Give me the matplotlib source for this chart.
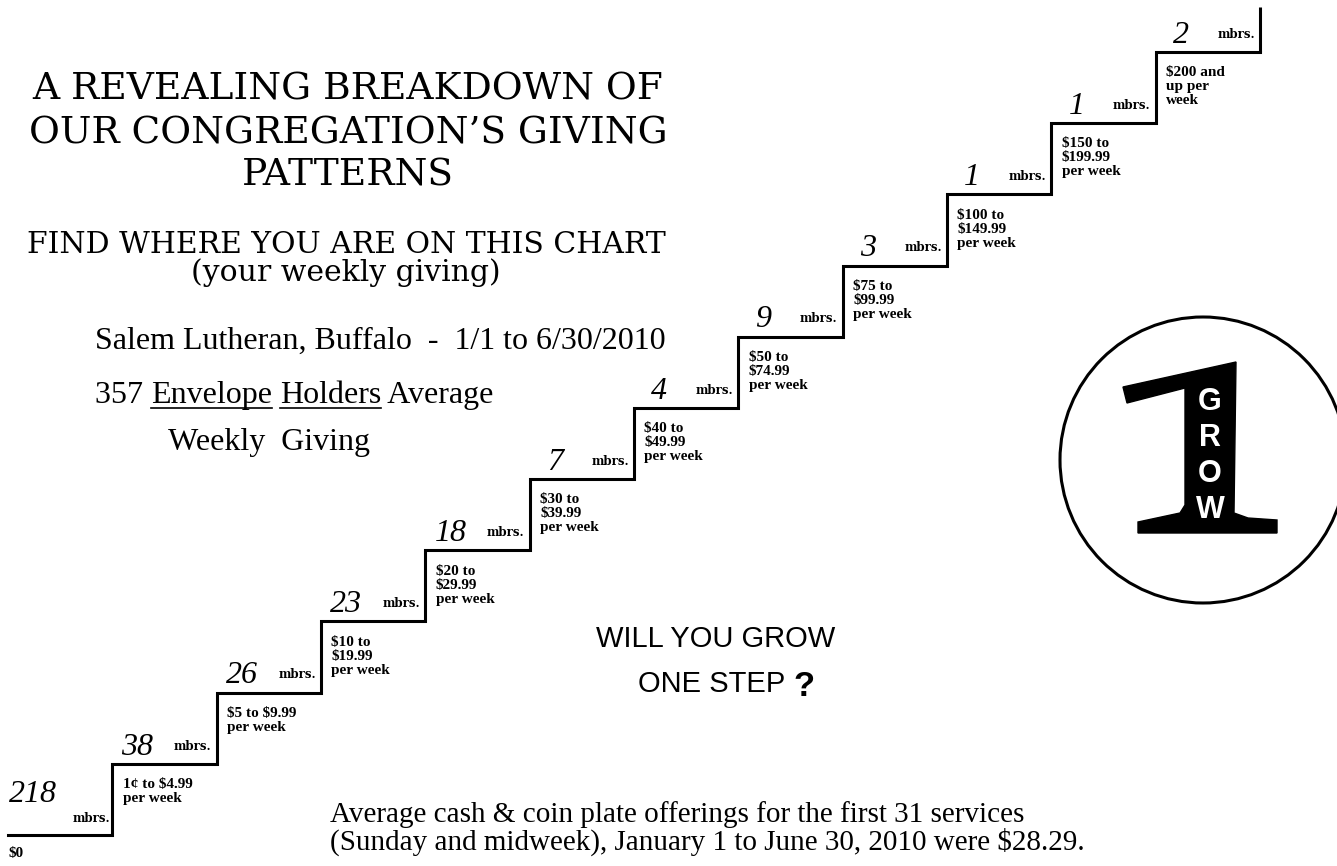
import numpy as np
import matplotlib
matplotlib.use("Agg")
import matplotlib.pyplot as plt
from matplotlib.patches import Circle, Polygon

plt.rcParams["text.parse_math"] = False

# giving brackets (weekly) and number of members on each step
ranges = ["$0", "1\u00a2 to $4.99\nper week", "$5 to $9.99\nper week",
          "$10 to\n$19.99\nper week", "$20 to\n$29.99\nper week",
          "$30 to\n$39.99\nper week", "$40 to\n$49.99\nper week",
          "$50 to\n$74.99\nper week", "$75 to\n$99.99\nper week",
          "$100 to\n$149.99\nper week", "$150 to\n$199.99\nper week",
          "$200 and\nup per\nweek"]
members = [218, 38, 26, 23, 18, 7, 4, 9, 3, 1, 1, 2]

W, H = 1337, 866
fig = plt.figure(figsize=(W / 100, H / 100), dpi=100)
fig.patch.set_facecolor("white")

# staircase axes: one unit per step
ax = fig.add_axes([0, 0, 1, 1])
ax.set_xlim(-0.077, 12.738)
ax.set_ylim(-0.435, 11.73)
ax.axis("off")

n = len(members)
lvl = np.arange(n)
ax.step(np.arange(n + 1), np.append(lvl, lvl[-1]), where="post",
        color="black", lw=2.2, solid_joinstyle="miter")
ax.vlines(n, n - 1, n - 0.37, color="black", lw=2.2)

hand = dict(family="Liberation Serif", style="italic", fontsize=23)
small = dict(family="DejaVu Serif", fontweight="bold", fontsize=8.5)
lab = dict(family="Liberation Serif", fontweight="bold", fontsize=11,
           linespacing=1.1)

for i, (r, m) in enumerate(zip(ranges, members)):
    if i == 0:
        ax.text(i + 0.24, i + 0.46, str(m), ha="center", va="baseline", **hand)
        ax.text(i + 0.98, i + 0.18, "mbrs.", ha="right", va="baseline", **small)
        ax.text(i + 0.0, i - 0.17, r, ha="left", va="top", **lab)
    else:
        ax.text(i + 0.24, i + 0.13, str(m), ha="center", va="baseline", **hand)
        ax.text(i + 0.95, i + 0.2, "mbrs.", ha="right", va="baseline", **small)
        ax.text(i + 0.1, i - 0.2, r, ha="left", va="top", **lab)

# overlay in pixel coordinates for the text block and logo
deco = fig.add_axes([0, 0, 1, 1])
deco.set_xlim(0, W)
deco.set_ylim(H, 0)
deco.axis("off")
deco.patch.set_alpha(0)

title = dict(family="DejaVu Serif", fontsize=27, ha="center", va="baseline")
deco.text(348, 100, "A REVEALING BREAKDOWN OF", **title)
deco.text(348, 143, "OUR CONGREGATION\u2019S GIVING", **title)
deco.text(348, 186, "PATTERNS", **title)
sub = dict(family="DejaVu Serif", fontsize=21.5, ha="center", va="baseline")
deco.text(346, 253, "FIND WHERE YOU ARE ON THIS CHART", **sub)
deco.text(346, 281, "(your weekly giving)", **sub)

body = dict(family="Liberation Serif", fontsize=23, va="baseline", ha="left")
deco.text(95, 349, "Salem Lutheran, Buffalo  -  1/1 to 6/30/2010", **body)

# line with underlined words
fig.canvas.draw()
rend = fig.canvas.get_renderer()
x = 95
for word, ul in [("357 ", False), ("Envelope", True), (" ", False),
                 ("Holders", True), (" Average", False)]:
    t = deco.text(x, 403, word, **body)
    w = t.get_window_extent(rend).width
    if ul:
        deco.plot([x, x + w], [408, 408], color="black", lw=1.2)
    x += w
deco.text(168, 450, "Weekly  Giving", **body)

sans = dict(family="Liberation Sans", fontsize=21, ha="center", va="baseline")
deco.text(716, 647, "WILL YOU GROW", **sans)
deco.text(712, 692, "ONE STEP", **sans)
deco.text(804, 696, "?", family="Liberation Sans", fontweight="bold",
          fontsize=25, ha="center", va="baseline")

foot = dict(family="Liberation Serif", fontsize=21, va="baseline", ha="left")
deco.text(330, 822, "Average cash & coin plate offerings for the first 31 services",
          **foot)
deco.text(330, 850, "(Sunday and midweek), January 1 to June 30, 2010 were $28.29.",
          **foot)

# GROW logo
deco.add_patch(Circle((1203, 460), 143, fill=False, ec="black", lw=2.2))
one = [(1123, 387), (1236, 362), (1234, 513), (1248, 518), (1277, 520),
       (1277, 533), (1138, 533), (1138, 522), (1180, 513), (1185, 505),
       (1185, 388), (1127, 403)]
deco.add_patch(Polygon(one, closed=True, fc="black", ec="black"))
for k, ch in enumerate("GROW"):
    deco.text(1210, 402 + k * 36, ch, family="Liberation Sans",
              fontweight="bold", fontsize=22, color="white",
              ha="center", va="center")

fig.savefig("out.png", dpi=100, facecolor="white")
